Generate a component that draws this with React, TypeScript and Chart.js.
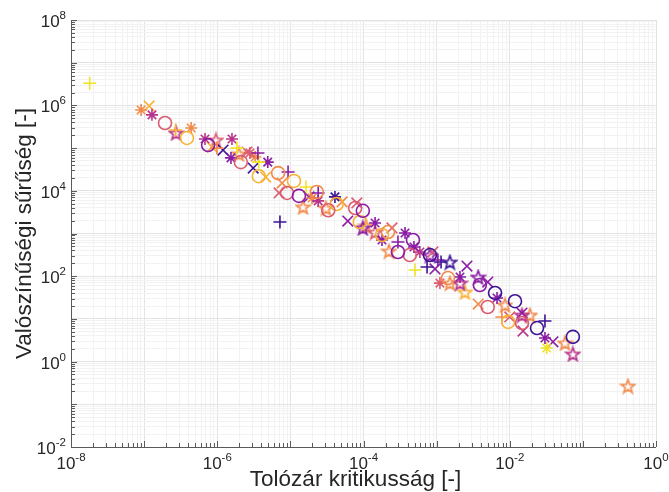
import { useEffect, useRef } from "react";
import { Chart, registerables } from "chart.js";

Chart.register(...registerables);

// ---- data: [x, y, series] ----
const xAxisTitle = "Tolózár kritikusság [-]";
const yAxisTitle = "Valószínűségi sűrűség [-]";
const xDecades = [-8, -6, -4, -2, 0];
const yDecades = [-2, 0, 2, 4, 6, 8];

const plusPoints: [number, number, number][] = [
  [1.8e-8, 3.3e6, 6], [2.7e-7, 2.65e5, 5], [9.9e-7, 1.0e5, 4], [1.86e-6, 1.0e5, 6],
  [3.6e-6, 7.7e4, 1], [3.7e-6, 4.7e4, 6], [9.3e-6, 2.75e4, 1], [1.64e-5, 1.23e4, 6],
  [2.4e-5, 8.9e3, 1], [7.2e-6, 1.86e3, 0], [2.96e-4, 632, 1], [5.06e-4, 140, 6],
  [7.4e-4, 164, 0], [1.04e-3, 239, 1], [1.15e-3, 215, 0], [7.8e-3, 11.1, 4],
  [3.03e-2, 8.9, 0],
];
const circlePoints: [number, number, number][] = [
  [1.93e-7, 3.87e5, 3], [3.85e-7, 1.73e5, 5], [7.5e-7, 1.18e5, 1], [2.1e-6, 4.7e4, 3],
  [3.7e-6, 2.2e4, 5], [6.8e-6, 2.6e4, 4], [1.12e-5, 1.7e4, 5], [9.0e-6, 8.9e3, 3],
  [1.31e-5, 7.6e3, 1], [2.3e-5, 9.4e3, 4], [4.3e-5, 4.9e3, 5], [3.3e-5, 3.5e3, 3],
  [7.7e-5, 3.95e3, 3], [9.8e-5, 3.4e3, 1], [8.9e-5, 1.86e3, 5], [1.79e-4, 923, 5],
  [2.16e-4, 1.08e3, 4], [2.96e-4, 369, 1], [4.75e-4, 705, 1], [4.3e-4, 313, 3],
  [8.1e-4, 313, 0], [1.43e-3, 90.8, 4], [3.9e-3, 62, 1], [6.3e-3, 40.5, 0],
  [5.0e-3, 19, 3], [1.18e-2, 26, 0], [9.5e-3, 8.5, 5], [1.47e-2, 8.0, 3],
  [2.36e-2, 6.1, 0], [7.3e-2, 3.8, 0],
];
const asteriskPoints: [number, number, number][] = [
  [9.1e-8, 7.8e5, 4], [1.28e-7, 6.0e5, 2], [4.4e-7, 2.96e5, 4], [6.8e-7, 1.63e5, 2],
  [1.59e-6, 1.63e5, 2], [1.54e-6, 5.9e4, 1], [2.8e-6, 7.7e4, 3], [3.3e-6, 6.2e4, 4],
  [4.9e-6, 4.7e4, 1], [1.98e-5, 6.8e3, 4], [2.4e-5, 5.8e3, 2], [4.07e-5, 7.2e3, 0],
  [1.44e-4, 1.76e3, 1], [1.79e-4, 705, 1], [3.7e-4, 1.03e3, 1], [4.9e-4, 483, 1],
  [5.9e-4, 369, 2], [1.11e-3, 69, 3], [2.09e-3, 95.7, 1], [6.7e-3, 30.8, 1],
  [3.03e-2, 3.57, 1], [3.2e-2, 2.08, 6],
];
const xMarkPoints: [number, number, number][] = [
  [1.17e-7, 9.7e5, 5], [8.5e-7, 1.06e5, 5], [1.2e-6, 9.0e4, 0], [2.55e-6, 8.1e4, 3],
  [3.1e-6, 3.4e4, 0], [4.6e-6, 2.1e4, 5], [7.0e-6, 8.9e3, 3], [7.7e-6, 1.52e4, 4],
  [1.8e-5, 7.2e3, 1], [5.1e-5, 5.5e3, 4], [8.1e-5, 5.2e3, 3], [6.1e-5, 1.96e3, 1],
  [2.45e-4, 1.35e3, 3], [8.9e-4, 369, 3], [9.5e-4, 148, 1], [2.6e-3, 173, 1],
  [5.0e-3, 73, 1], [3.7e-3, 22.3, 4], [1.0e-2, 11.1, 3], [1.47e-2, 13.7, 1],
  [1.52e-2, 5.2, 2], [3.9e-2, 2.9, 1],
];
const starPoints: [number, number, number][] = [
  [2.73e-7, 2.26e5, 2], [9.6e-7, 1.55e5, 3], [1.98e-6, 7.3e4, 4], [1.49e-5, 4.2e3, 4],
  [3.07e-5, 3.95e3, 4], [9.8e-5, 1.35e3, 1], [1.08e-4, 1.5e3, 4], [1.44e-4, 1.08e3, 3],
  [2.23e-4, 389, 4], [8.1e-4, 313, 1], [1.52e-3, 215, 0], [1.52e-3, 69, 4],
  [2.09e-3, 69, 2], [2.44e-3, 42.7, 5], [3.7e-3, 95.7, 1], [8.6e-3, 21.2, 4],
  [1.47e-2, 12.3, 2], [1.89e-2, 12.3, 4], [5.7e-2, 2.73, 4], [7.3e-2, 1.51, 2],
  [0.414, 0.268, 4],
];

// ---- styles ----
const COLORS = ["#3d1496", "#8a1ca6", "#b8348c", "#dc5c70", "#f28a4a", "#f9b233", "#f0e226"];
const FONT = "'Liberation Sans', Arial, Helvetica, sans-serif";

function makePentagram(color: string) {
  const size = 17;
  const c = document.createElement("canvas");
  c.width = size;
  c.height = size;
  const g = c.getContext("2d")!;
  const cx = size / 2;
  const cy = size / 2 + 0.7;
  const R = 7.2;
  const r = R * 0.4;
  g.beginPath();
  for (let i = 0; i < 10; i++) {
    const a = -Math.PI / 2 + (i * Math.PI) / 5;
    const rad = i % 2 === 0 ? R : r;
    const x = cx + rad * Math.cos(a);
    const y = cy + rad * Math.sin(a);
    if (i === 0) g.moveTo(x, y);
    else g.lineTo(x, y);
  }
  g.closePath();
  g.strokeStyle = color;
  g.lineWidth = 1.6;
  g.stroke();
  return c;
}

function logTicks(minE: number, maxE: number) {
  const t: { value: number }[] = [];
  for (let e = minE; e < maxE; e++) for (let m = 1; m < 10; m++) t.push({ value: m * Math.pow(10, e) });
  t.push({ value: Math.pow(10, maxE) });
  return t;
}
const isMajor = (v: number) => {
  const l = Math.log10(v);
  return Math.abs(l - Math.round(l)) < 1e-6;
};

const axesPlugin = {
  id: "matlabAxes",
  beforeDatasetsDraw(chart: any) {
    const { ctx, chartArea: a, scales } = chart;
    ctx.save();
    ctx.strokeStyle = "#5a5a5a";
    ctx.lineWidth = 1;
    ctx.beginPath();
    ctx.moveTo(a.left + 0.5, a.top);
    ctx.lineTo(a.left + 0.5, a.bottom + 0.5);
    ctx.lineTo(a.right, a.bottom + 0.5);
    ctx.stroke();
    ctx.beginPath();
    for (const t of scales.x.ticks) {
      const px = Math.round(scales.x.getPixelForValue(t.value)) + 0.5;
      const len = isMajor(t.value) ? 6 : 4;
      ctx.moveTo(px, a.bottom);
      ctx.lineTo(px, a.bottom - len);
    }
    for (const t of scales.y.ticks) {
      const py = Math.round(scales.y.getPixelForValue(t.value)) + 0.5;
      const len = isMajor(t.value) ? 6 : 4;
      ctx.moveTo(a.left, py);
      ctx.lineTo(a.left + len, py);
    }
    ctx.stroke();
    ctx.restore();
  },
  afterDraw(chart: any) {
    const { ctx, chartArea: a, scales } = chart;
    ctx.save();
    ctx.fillStyle = "#262626";
    const base = `17px ${FONT}`;
    const sup = `11.5px ${FONT}`;
    for (const e of xDecades) {
      const px = scales.x.getPixelForValue(Math.pow(10, e));
      ctx.font = base;
      const w1 = ctx.measureText("10").width;
      ctx.font = sup;
      const w2 = ctx.measureText(String(e)).width;
      const x0 = px - (w1 + w2) / 2;
      ctx.textAlign = "left";
      ctx.textBaseline = "alphabetic";
      ctx.font = base;
      ctx.fillText("10", x0, a.bottom + 22);
      ctx.font = sup;
      ctx.fillText(String(e), x0 + w1, a.bottom + 14);
    }
    for (const e of yDecades) {
      const py = scales.y.getPixelForValue(Math.pow(10, e));
      ctx.font = sup;
      const w2 = ctx.measureText(String(e)).width;
      ctx.font = base;
      const w1 = ctx.measureText("10").width;
      const xr = a.left - 5;
      ctx.textAlign = "left";
      ctx.textBaseline = "alphabetic";
      ctx.font = base;
      ctx.fillText("10", xr - w1 - w2, py + 7);
      ctx.font = sup;
      ctx.fillText(String(e), xr - w2, py - 1);
    }
    ctx.font = `22.5px ${FONT}`;
    ctx.textAlign = "center";
    ctx.textBaseline = "alphabetic";
    ctx.fillText(xAxisTitle, (a.left + a.right) / 2 - 8, 486);
    ctx.font = `22.5px ${FONT}`;
    ctx.translate(31, (a.top + a.bottom) / 2);
    ctx.rotate(-Math.PI / 2);
    ctx.fillText(yAxisTitle, 0, 0);
    ctx.restore();
  },
};

function buildDatasets() {
  const groups: { pts: [number, number, number][]; style: any; radius: number }[] = [
    { pts: circlePoints, style: "circle", radius: 6.5 },
    { pts: plusPoints, style: "cross", radius: 6.5 },
    { pts: asteriskPoints, style: "star", radius: 6 },
    { pts: xMarkPoints, style: "crossRot", radius: 7.5 },
    { pts: starPoints, style: "pentagram", radius: 8 },
  ];
  const ds: any[] = [];
  for (const g of groups) {
    for (let c = 0; c < COLORS.length; c++) {
      const data = g.pts.filter((p) => p[2] === c).map((p) => ({ x: p[0], y: p[1] }));
      if (!data.length) continue;
      ds.push({
        data,
        showLine: false,
        pointStyle: g.style === "pentagram" ? makePentagram(COLORS[c]) : g.style,
        pointRadius: g.radius,
        pointBorderColor: COLORS[c],
        pointBackgroundColor: "rgba(0,0,0,0)",
        pointBorderWidth: 1.6,
        pointHoverRadius: g.radius,
      });
    }
  }
  return ds;
}

export default function App() {
  const ref = useRef<HTMLCanvasElement | null>(null);
  useEffect(() => {
    document.body.style.margin = "0";
    const gridColor = (ctx: any) =>
      ctx.tick && isMajor(ctx.tick.value) ? "#e3e3e3" : "#f2f2f2";
    const chart = new Chart(ref.current!, {
      type: "scatter",
      data: { datasets: buildDatasets() },
      options: {
        animation: false,
        responsive: false,
        events: [],
        layout: { padding: { top: 20, right: 13, left: 0, bottom: 0 } },
        plugins: { legend: { display: false }, tooltip: { enabled: false } },
        scales: {
          x: {
            type: "logarithmic",
            min: 1e-8,
            max: 1,
            afterBuildTicks: (s: any) => { s.ticks = logTicks(-8, 0); },
            afterFit: (s: any) => { s.height = 45; },
            ticks: { display: false },
            grid: { color: gridColor, drawTicks: false, lineWidth: 1 },
            border: { display: false },
          },
          y: {
            type: "logarithmic",
            min: 1e-2,
            max: 1e8,
            afterBuildTicks: (s: any) => { s.ticks = logTicks(-2, 8); },
            afterFit: (s: any) => { s.width = 71; },
            ticks: { display: false },
            grid: { color: gridColor, drawTicks: false, lineWidth: 1 },
            border: { display: false },
          },
        },
      },
      plugins: [axesPlugin],
    });
    return () => chart.destroy();
  }, []);
  return (
    <div style={{ width: 669, height: 492 }}>
      <canvas ref={ref} width={669} height={492} />
    </div>
  );
}
